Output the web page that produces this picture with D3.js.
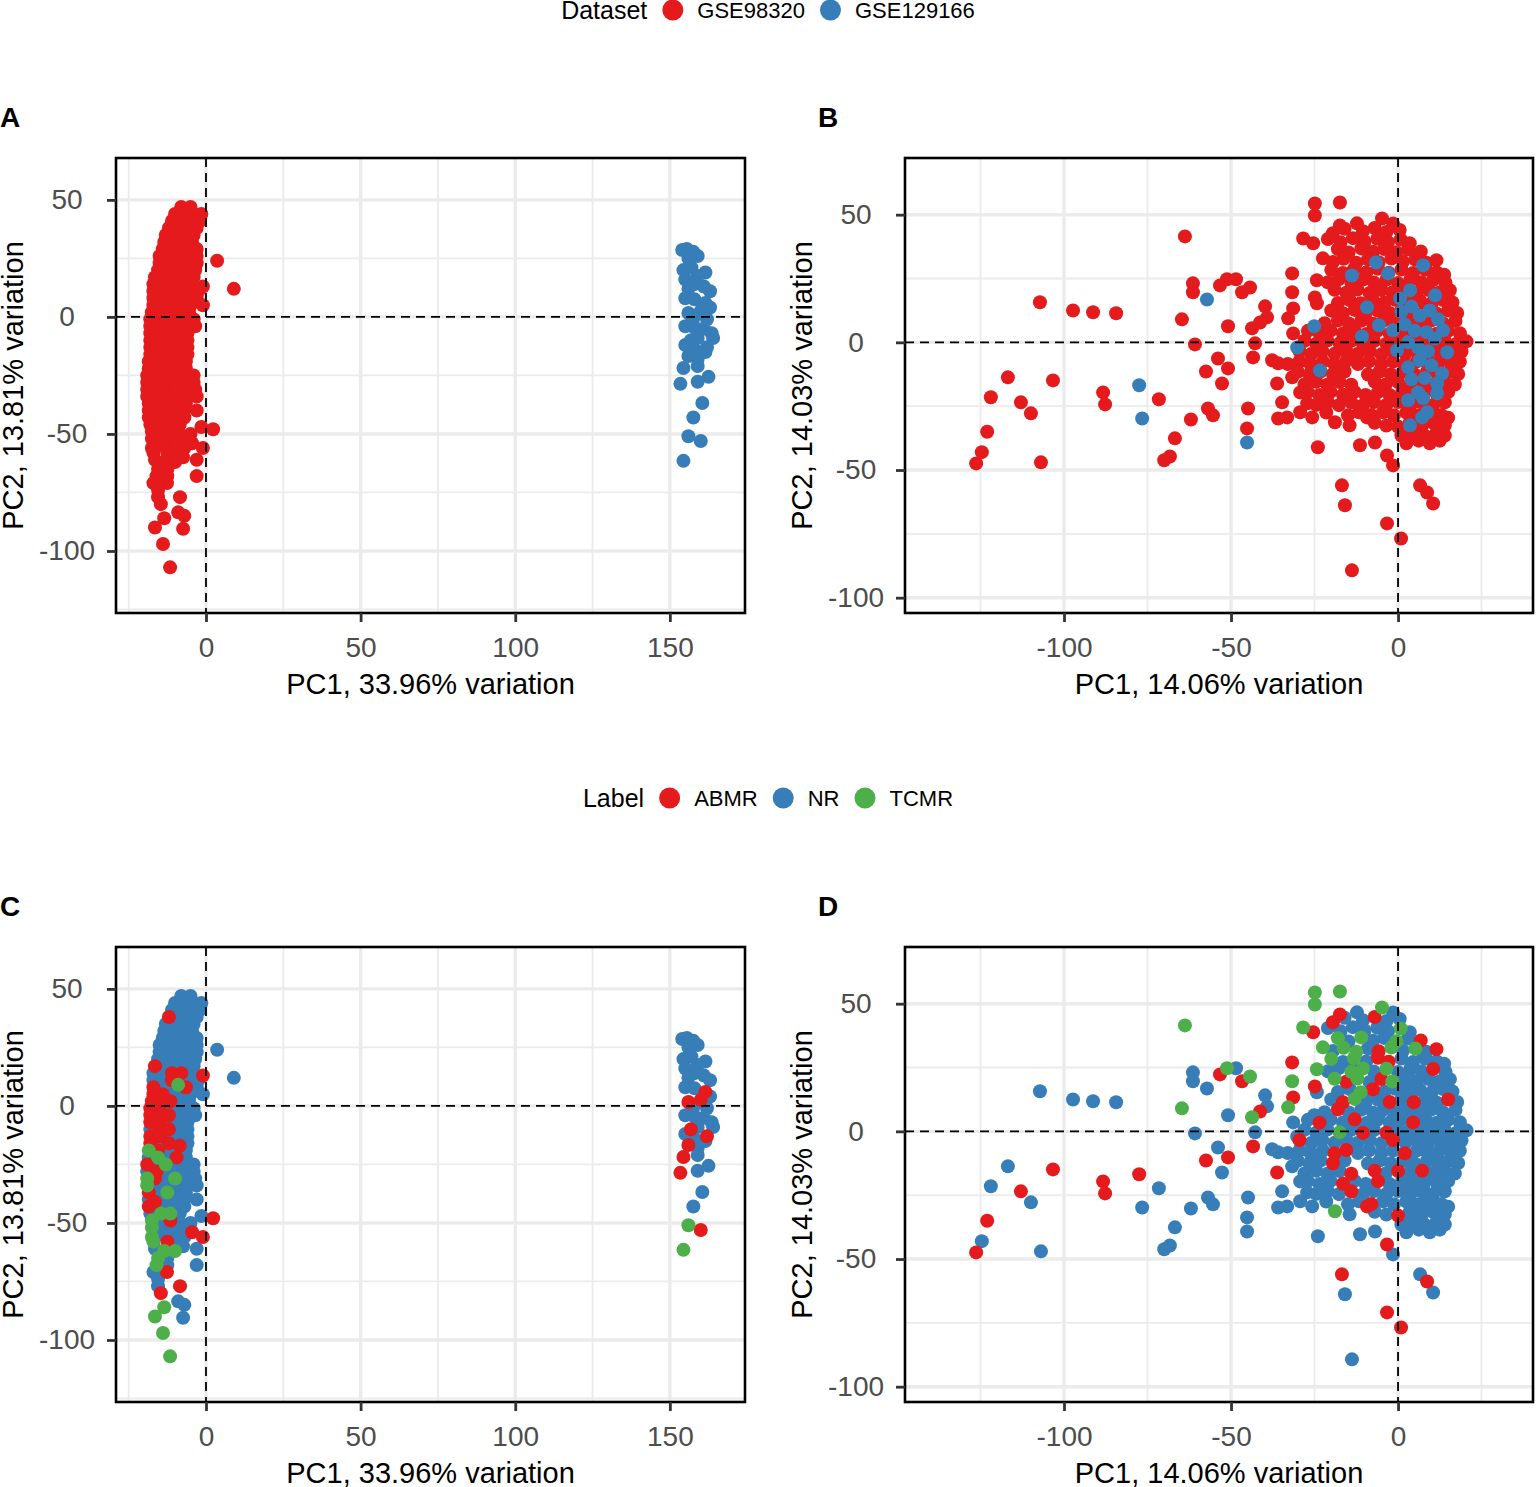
<!DOCTYPE html>
<html>
<head>
<meta charset="utf-8">
<script src="https://cdn.jsdelivr.net/npm/d3@7"></script>
<style>
  body { margin: 0; background: #fff; }
  svg text { font-family: "Liberation Sans", Arial, Helvetica, sans-serif; }
</style>
</head>
<body>
<svg id="chart" width="1536" height="1487"></svg>
<script>
// categories
const datasetNames = ["GSE98320", "GSE129166"];
const labelNames = ["ABMR", "NR", "TCMR"];
const labelCodes = { A: "ABMR", N: "NR", T: "TCMR" };

// tick values
const allXTicks = [0, 50, 100, 150];
const allYTicks = [50, 0, -50, -100];
const allXMinor = [-25, 25, 75, 125];
const allYMinor = [25, -25, -75, -125];
const subXTicks = [-100, -50, 0];
const subYTicks = [50, 0, -50, -100];
const subXMinor = [-125, -75, -25, 25];
const subYMinor = [25, -25, -75];

const allXTitle = "PC1, 33.96% variation";
const allYTitle = "PC2, 13.81% variation";
const subXTitle = "PC1, 14.06% variation";
const subYTitle = "PC2, 14.03% variation";

// PCA on all samples (panels A and C): [PC1, PC2, label code]
const allGse98320 = [
  [-8,47,"N"],[-5,47,"N"],
  [-10,44,"N"],[-7,44,"N"],[-4,44,"N"],[-1.5,44,"N"],
  [-11,41,"N"],[-8,41,"N"],[-5,41,"N"],[-2,41,"N"],
  [-12,38,"A"],[-9,38,"N"],[-6,38,"N"],[-3,38,"N"],
  [-13,35,"N"],[-10,35,"N"],[-7,35,"N"],[-4,35,"N"],
  [-13.5,32,"N"],[-10.5,32,"N"],[-7.5,32,"N"],[-4.5,32,"N"],
  [-14,29,"N"],[-11,29,"N"],[-8,29,"N"],[-5,29,"N"],[-3,29,"N"],
  [-15,26,"N"],[-12,26,"N"],[-9,26,"N"],[-6,26,"N"],[-3,26,"N"],
  [-15,23,"N"],[-12,23,"N"],[-9,23,"N"],[-6,23,"N"],[-3,23,"N"],
  [-15.5,20,"N"],[-12.5,20,"N"],[-9.5,20,"N"],[-6.5,20,"N"],[-3.5,20,"N"],
  [-16.5,17,"A"],[-13,17,"N"],[-10,17,"N"],[-7,17,"N"],[-4,17,"N"],
  [-17,14,"N"],[-14,14,"N"],[-11,14,"A"],[-8,14,"A"],[-5,14,"N"],[-1,13,"A"],
  [-17,11,"N"],[-14,11,"N"],[-11,11,"A"],[-8,11,"N"],[-5,11,"N"],[-2.5,11,"N"],
  [-17,8,"A"],[-14,8,"N"],[-11.5,8,"N"],[-9,9,"T"],[-6.5,8,"A"],[-3,8,"N"],
  [-17,5,"A"],[-14,5,"A"],[-11,5,"N"],[-8,5,"N"],[-5,5,"N"],[-1,5,"N"],
  [-17.5,2,"A"],[-14.5,2,"A"],[-11.5,2,"A"],[-8.5,2,"N"],[-5.5,2,"N"],
  [-18,-1,"A"],[-15,-1,"A"],[-12,-1,"N"],[-9,-1,"N"],[-6,-1,"N"],[-4,-1,"N"],
  [-18,-4,"A"],[-15,-4,"A"],[-12,-4,"A"],[-9,-4,"N"],[-6,-4,"N"],[-3.5,-4,"N"],
  [-18,-7,"A"],[-15,-7,"A"],[-12,-7,"N"],[-9,-7,"N"],[-6,-7,"N"],
  [-18,-10,"N"],[-15,-10,"A"],[-12,-10,"A"],[-9,-10,"N"],[-6,-10,"N"],
  [-18,-13,"A"],[-15,-13,"A"],[-12,-13,"N"],[-9,-13,"N"],[-6,-13,"N"],
  [-18,-16,"A"],[-15,-16,"N"],[-12,-16,"A"],[-8.5,-17,"A"],[-6,-16,"N"],
  [-18.5,-19,"T"],[-15.5,-19,"A"],[-12.5,-19,"N"],[-9.5,-19,"N"],[-6.5,-19,"N"],
  [-18.5,-22,"N"],[-15.5,-22,"T"],[-12.5,-22,"N"],[-9.5,-22,"A"],[-6.5,-22,"N"],
  [-19,-25,"A"],[-16,-25,"N"],[-13,-25,"T"],[-10,-25,"N"],[-7,-25,"N"],[-4,-25,"N"],
  [-19,-28,"N"],[-16,-28,"A"],[-13,-28,"N"],[-10,-28,"N"],[-7,-28,"N"],[-4,-28,"N"],
  [-19,-31,"T"],[-16.5,-31,"A"],[-13.5,-31,"N"],[-10,-31,"T"],[-7,-31,"N"],[-3.5,-31,"N"],
  [-19,-34,"T"],[-16,-34,"N"],[-13,-34,"N"],[-10,-34,"N"],[-7,-34,"N"],[-3,-34,"N"],
  [-18.5,-37,"A"],[-15.5,-37,"N"],[-12.5,-37,"T"],[-9.5,-37,"N"],[-6.5,-37,"N"],
  [-18.5,-40,"N"],[-16.5,-41,"A"],[-13,-40,"N"],[-10,-40,"N"],[-7,-40,"N"],[-3,-40,"N"],
  [-18.5,-43,"A"],[-15.5,-43,"N"],[-12.5,-43,"N"],[-9.5,-43,"N"],[-7,-43,"N"],
  [-18,-46,"N"],[-14.5,-46,"T"],[-11.5,-46,"T"],[-8.5,-46,"N"],[-1.5,-47,"N"],
  [-17.5,-49,"T"],[-14.5,-49,"N"],[-11.5,-49,"A"],[-8.5,-50,"N"],[-5,-50,"N"],
  [-17.5,-52,"T"],[-14.5,-52,"N"],[-11,-53,"N"],[-8,-52,"N"],[-4.5,-54,"A"],
  [-17.5,-56,"T"],[-14,-55,"N"],[-10,-55,"N"],[-7,-56,"N"],[-1,-56,"A"],
  [-17,-58,"T"],[-12.5,-58,"A"],[-10,-59,"N"],[-7.4,-60,"N"],[-3,-61,"N"],
  [-16.5,-61,"N"],[-13.5,-62,"T"],[-10,-62,"T"],
  [-15.5,-65,"T"],[-12.5,-65,"N"],
  [-16,-68,"T"],[-12.5,-68,"N"],[-3,-68,"N"],
  [-17,-71,"N"],[-12.6,-71,"A"],
  [-15.5,-74,"N"],
  [-15.5,-77,"N"],[-8.4,-77,"A"],
  [-14.6,-80,"A"],
  [-13.5,-86,"T"],[-9,-83.5,"N"],[-7,-85,"N"],[-7.4,-90.5,"N"],[-16.5,-90,"T"],
  [-13.9,-97,"T"],[-11.6,-107,"T"],
  [3.6,24,"N"],[9,12,"N"],[2.3,-48,"A"]
];

const allGse129166 = [
  [154,28.6,"N"],[155.5,29,"N"],[157.6,27.8,"N"],[159,26,"N"],[156,25,"N"],
  [154.4,20,"N"],[157,21,"N"],[161.5,19,"N"],[159,17.5,"N"],[155,16,"N"],
  [158,14,"N"],[161,13,"N"],[156,12,"N"],[163,11,"N"],[155,8,"N"],[158,7.5,"N"],
  [161.5,6,"A"],[163,4,"N"],[156,1.7,"A"],[160,2.6,"A"],[157.5,-1,"N"],[162,-1,"N"],
  [155,-4,"N"],[158,-4.5,"N"],[161,-5,"N"],[163.5,-7,"N"],[164,-9,"N"],
  [156.8,-10,"A"],[159,-9,"N"],[162,-13,"A"],[155,-12,"N"],[158,-14,"N"],[161.5,-15,"N"],
  [156,-16.7,"A"],[159,-18,"N"],[154.4,-21.8,"A"],[159,-21,"N"],[162.5,-25.6,"N"],
  [159,-27.7,"N"],[153.4,-28.6,"A"],[160.5,-36.8,"N"],[157.6,-43,"N"],
  [156,-51,"T"],[160,-53,"A"],[154.4,-61.5,"T"]
];

// PCA on the subset (panels B and D): [PC1, PC2, label code]
const subGse98320 = [
  [-126.3,-47.4,"A"],[-124.6,-43,"N"],[-123,-35,"A"],[-121.9,-21.5,"N"],[-116.8,-13.7,"N"],
  [-112.9,-23.5,"A"],[-109.9,-27.8,"N"],[-107.2,15.7,"N"],[-106.9,-47,"N"],[-103.3,-14.9,"A"],
  [-97.3,12.5,"N"],[-91.3,11.8,"N"],[-88.3,-19.6,"A"],[-87.7,-24.3,"A"],[-84.4,11.4,"N"],
  [-71.6,-22.3,"N"],[-70,-46.2,"N"],[-68.3,-44.7,"N"],[-66.8,-37.6,"N"],
  [-63.8,41.5,"T"],[-64.7,9,"T"],[-61.4,23.1,"N"],[-61.4,19.6,"N"],[-60.8,-0.8,"N"],[-62,-30.2,"N"],
  [-56.9,-25.9,"N"],[-55.4,-28.6,"N"],
  [-53.3,22.3,"A"],[-51.2,24.7,"T"],[-48.5,24.7,"N"],[-46.7,19.6,"A"],[-44.3,21.5,"T"],
  [-50.9,6.3,"N"],[-53.9,-6.3,"N"],[-50.9,-10.2,"A"],[-57.5,-11.4,"A"],[-52.7,-16.1,"N"],
  [-44.9,-25.9,"N"],[-45.2,-33.7,"N"],
  [-39.8,14.1,"N"],[-39.2,9.8,"N"],[-41.3,7.8,"A"],[-43.7,5.5,"T"],[-42.8,-0.4,"N"],[-43.4,-5.9,"A"],
  [-37.7,-7,"N"],[-35.9,-8.2,"N"],[-36.2,-16.1,"A"],[-34.7,-23.5,"N"],[-35.9,-29.8,"N"],[-33.2,-29.4,"N"],
  [-31.7,27,"A"],[-31.7,19.6,"T"],[-31.4,13.3,"A"],[-32.9,9.4,"T"],[-31.4,3.5,"N"],[-31.7,-13.7,"N"],
  [-29.3,-19.6,"N"],[-27.2,-23.9,"N"],[-29.3,-27.4,"N"],[-25.7,-29.4,"N"],
  [-28.4,40.7,"T"],[-25.4,38.8,"A"],[-24.9,54.4,"T"],[-24.9,49.7,"T"],[-17.4,54.8,"T"],
  [-24.3,24.3,"T"],[-24.9,17.6,"A"],[-24.3,15.3,"N"],[-22.5,32.9,"T"],[-24,-41.1,"N"],
  [-18.9,-31.3,"T"],[-16.8,-56,"A"],[-15.9,-63.8,"N"],[-13.8,-89.3,"N"],[-11.4,-40.3,"N"],
  [-9.3,-29.4,"A"],[-6.9,-39.2,"N"],[-3.3,-44.3,"A"],[-1.5,-48.2,"N"],[-3.3,-70.9,"A"],[0.9,-76.8,"A"],
  [6.6,-56,"N"],[8.7,-58.8,"A"],[10.5,-63.1,"N"],
  [-12.3,46.6,"N"],[-17.4,45.8,"A"],[-19.5,42.7,"A"],
  [-4.8,48.5,"T"],[-1.5,46.5,"N"],
  [-16,44.5,"N"],[-10.5,43.5,"N"],[-7,44.8,"A"],[-3.5,43.2,"N"],[0.5,44,"N"],
  [-21,40.5,"N"],[-17.2,39.2,"N"],[-13.5,40.8,"N"],[-10,39.5,"N"],[-6.2,40.6,"N"],[-3,39.2,"N"],[0.8,40.3,"T"],[3.5,38.8,"N"],
  [-18,36.5,"T"],[-14.8,35.2,"N"],[-11,36.8,"T"],[-7.5,35.5,"N"],[-4.2,36.6,"N"],[-0.5,35.3,"T"],[3,36.4,"N"],[6.8,35.6,"A"],
  [-19.5,31.5,"N"],[-16.3,32.7,"T"],[-12.5,31.2,"T"],[-9,32.5,"N"],[-5.8,31.4,"A"],[-2,32.8,"T"],[1.5,31.6,"N"],[5.2,32.4,"T"],[8.5,31.2,"N"],[11.5,32.2,"A"],
  [-20,28.4,"T"],[-16.5,27.2,"N"],[-13.2,28.6,"T"],[-9.5,27.4,"N"],[-6,28.8,"A"],[-2.8,27.3,"A"],[1,28.5,"N"],[4.5,27.2,"N"],[8.2,28.4,"N"],[11.5,27.5,"N"],[13.8,26.5,"N"],
  [-21,23.5,"N"],[-17.8,24.7,"N"],[-14,23.3,"T"],[-10.5,24.6,"T"],[-7.2,23.4,"N"],[-3.5,24.5,"T"],[0,23.2,"N"],[3.7,24.6,"N"],[7,23.5,"N"],[10.5,24.4,"A"],[14.2,23.4,"N"],
  [-19,20.6,"T"],[-15.5,19.4,"A"],[-12.2,20.7,"T"],[-8.5,19.3,"N"],[-5,20.5,"A"],[-1.7,19.5,"T"],[2,20.6,"N"],[5.5,19.4,"N"],[9.2,20.5,"N"],[12.5,19.6,"N"],[15.5,20.4,"N"],
  [-18,15.4,"N"],[-14.5,16.6,"N"],[-11.2,15.3,"T"],[-7.5,16.5,"A"],[-4,15.5,"N"],[-0.8,16.7,"N"],[3,15.4,"N"],[6.5,16.5,"N"],[10.2,15.5,"N"],[13.5,16.6,"N"],[16.3,15.6,"N"],
  [-20,12.5,"N"],[-16.5,11.4,"A"],[-13,12.7,"T"],[-9.7,11.3,"N"],[-6,12.4,"N"],[-2.5,11.5,"A"],[1,12.6,"N"],[4.7,11.4,"A"],[8,12.5,"N"],[11.5,11.3,"N"],[15,12.5,"A"],[17.7,11.5,"N"],
  [-22,7.5,"N"],[-18,8.6,"A"],[-14.7,7.4,"N"],[-11,8.5,"N"],[-7.5,7.3,"N"],[-4.2,8.6,"N"],[-0.5,7.4,"N"],[3,8.5,"N"],[6.7,7.5,"N"],[10,8.6,"N"],[13.5,7.4,"N"],[17.2,8.4,"N"],
  [-27,4.5,"N"],[-23.5,3.4,"A"],[-20.2,4.6,"N"],[-16.5,3.5,"N"],[-13,4.7,"A"],[-9.5,3.3,"N"],[-6.2,4.5,"N"],[-2.5,3.4,"N"],[1,4.6,"N"],[4.5,3.5,"A"],[8.2,4.5,"N"],[11.5,3.4,"N"],[15,4.5,"N"],[18.5,3.6,"N"],
  [-28,0.6,"N"],[-24.5,-0.5,"N"],[-21.2,0.7,"N"],[-17.5,-0.4,"T"],[-14,0.6,"N"],[-10.5,-0.6,"A"],[-7.2,0.5,"N"],[-3.5,-0.5,"A"],[0,0.7,"N"],[3.5,-0.4,"N"],[7.2,0.5,"N"],[10.5,-0.6,"N"],[14,0.5,"N"],[17.5,-0.5,"N"],[20.5,0.4,"N"],
  [-29.5,-3.4,"A"],[-26,-4.6,"N"],[-22.7,-3.5,"N"],[-19,-4.5,"N"],[-15.5,-3.3,"N"],[-12.2,-4.6,"N"],[-8.5,-3.5,"N"],[-5,-4.7,"N"],[-1.5,-3.4,"A"],[2.2,-4.5,"N"],[5.5,-3.4,"N"],[9,-4.6,"N"],[12.5,-3.5,"N"],[16.2,-4.4,"N"],[19,-3.6,"N"],
  [-33,-8.5,"N"],[-29.5,-7.4,"N"],[-26.2,-8.6,"N"],[-22.5,-7.5,"N"],[-19,-8.6,"A"],[-15.5,-7.3,"A"],[-12,-8.5,"N"],[-8.7,-7.4,"N"],[-5,-8.6,"N"],[-1.5,-7.5,"N"],[2,-8.6,"A"],[5.7,-7.4,"N"],[9,-8.5,"N"],[12.5,-7.4,"N"],[16,-8.6,"N"],[18.5,-7.6,"N"],
  [-30,-11.5,"N"],[-26.5,-12.6,"N"],[-23.2,-11.4,"N"],[-19.5,-12.5,"A"],[-16,-11.4,"N"],[-9,-12.6,"N"],[-5.5,-11.4,"N"],[-2.2,-12.5,"N"],[1.5,-11.5,"N"],[5,-12.6,"N"],[8.7,-11.4,"N"],[12,-12.5,"N"],[15.5,-11.5,"N"],[18,-12.4,"N"],
  [-28,-16.5,"N"],[-24.5,-15.4,"N"],[-21.2,-16.6,"N"],[-17.5,-15.5,"N"],[-14,-16.6,"A"],[-7,-15.4,"A"],[-3.7,-16.5,"N"],[0,-15.5,"A"],[3.5,-16.6,"N"],[7.2,-15.4,"A"],[10.5,-16.5,"N"],[14,-15.5,"N"],[17,-16.5,"N"],
  [-27,-19.5,"N"],[-23.5,-20.6,"N"],[-20.2,-19.4,"N"],[-16.5,-20.5,"A"],[-13,-19.4,"N"],[-9.7,-20.6,"N"],[-6,-19.5,"A"],[-2.5,-20.6,"N"],[1.2,-19.4,"N"],[4.5,-20.5,"N"],[8,-19.5,"N"],[11.7,-20.6,"N"],[15,-19.5,"N"],
  [-24.5,-24.5,"N"],[-21,-23.4,"N"],[-17.7,-24.6,"N"],[-14,-23.5,"A"],[-10.5,-24.6,"N"],[-7.2,-23.4,"N"],[-3.5,-24.5,"N"],[0,-23.4,"N"],[3.7,-24.5,"N"],[7,-23.5,"N"],[10.5,-24.6,"N"],[14,-23.5,"N"],
  [-21.5,-27.5,"N"],[-15,-28.6,"N"],[-11.7,-27.4,"N"],[-8,-28.5,"A"],[-4.5,-27.4,"N"],[-1.2,-28.6,"N"],[2.5,-27.5,"N"],[6,-28.6,"N"],[9.7,-27.4,"N"],[13,-28.5,"N"],[15,-29.5,"N"],
  [-14.5,-32.5,"N"],[-7,-31.5,"N"],[-3.5,-32.6,"N"],[0,-33,"A"],[3.5,-31.5,"N"],[7.2,-32.6,"N"],[10.5,-31.5,"N"],[14,-32.5,"N"],
  [1,-36.5,"N"],[4.7,-35.5,"N"],[8,-36.6,"N"],[11.5,-35.5,"N"],[14,-36.5,"N"],
  [2.5,-39.5,"N"],[6.2,-38.5,"N"],[9.5,-39.5,"N"],[12.5,-38.5,"N"]
];

const subGse129166 = [
  [-77.5,-16.8,"A"],[-76.6,-29.8,"N"],[-57.2,16.8,"N"],[-45.2,-39.2,"N"],
  [-25.1,6.3,"N"],[-23.4,-11,"N"],[-30.2,-2,"N"],
  [-13.8,26.2,"N"],[-6.6,31.3,"N"],[-3,27,"N"],[7.5,30.2,"N"],
  [-9.3,13.7,"N"],[-5.7,6.7,"N"],[-10.8,2.3,"N"],
  [3.6,20.4,"N"],[0.6,17.2,"N"],[11.1,18.4,"N"],
  [1,12,"N"],[4,14,"N"],[6.5,10.5,"N"],[9.5,12.5,"N"],[12,9,"N"],
  [2,7,"N"],[5,4.5,"N"],[8.5,4,"N"],[11,1.5,"N"],[13.5,4.7,"N"],
  [-1.5,4.7,"N"],[-0.3,-3.1,"N"],[3,0,"N"],[6,-2,"N"],[9,-3.5,"N"],[14.7,-3.9,"N"],
  [3,-9.8,"N"],[6.5,-7,"N"],[10,-9,"N"],[13.2,-12.2,"N"],
  [11.7,-16.1,"N"],[11.7,-20,"N"],[6,-19.6,"N"],[8,-14,"N"],[4,-14.5,"N"],
  [3,-22.7,"N"],[7.5,-21.9,"N"],[8.7,-27.4,"N"],[7.2,-29.4,"N"],[3.6,-32.5,"N"]
];

const datasetColor = d3.scaleOrdinal().domain(datasetNames).range(["#E41A1C", "#377EB8"]);
const labelColor = d3.scaleOrdinal().domain(labelNames).range(["#E41A1C", "#377EB8", "#4DAF4A"]);

const svg = d3.select("#chart");

// turn the arrays into point objects
function toPoints(rows, dataset) {
  return rows.map((r) => ({ pc1: r[0], pc2: r[1], dataset: dataset, label: labelCodes[r[2]] }));
}
const allPoints = toPoints(allGse98320, datasetNames[0]).concat(toPoints(allGse129166, datasetNames[1]));
const subPoints = toPoints(subGse98320, datasetNames[0]).concat(toPoints(subGse129166, datasetNames[1]));

// draw order for the label panels: NR under, then ABMR, then TCMR
const labelDrawOrder = { NR: 0, ABMR: 1, TCMR: 2 };
function byLabel(points) {
  return points.slice().sort((a, b) => labelDrawOrder[a.label] - labelDrawOrder[b.label]);
}

const panels = [
  { letter: "A", left: 116, top: 158, width: 629, height: 455, xDomain: [-29.1, 174.3], yDomain: [-126.5, 67.9],
    xTicks: allXTicks, yTicks: allYTicks, xMinor: allXMinor, yMinor: allYMinor, xTitle: allXTitle, yTitle: allYTitle,
    points: allPoints, colorBy: "dataset" },
  { letter: "B", left: 905, top: 158, width: 628, height: 455, xDomain: [-147.6, 40.4], yDomain: [-106.0, 72.2],
    xTicks: subXTicks, yTicks: subYTicks, xMinor: subXMinor, yMinor: subYMinor, xTitle: subXTitle, yTitle: subYTitle,
    points: subPoints, colorBy: "dataset" },
  { letter: "C", left: 116, top: 947, width: 629, height: 455, xDomain: [-29.1, 174.3], yDomain: [-126.5, 67.9],
    xTicks: allXTicks, yTicks: allYTicks, xMinor: allXMinor, yMinor: allYMinor, xTitle: allXTitle, yTitle: allYTitle,
    points: byLabel(allPoints), colorBy: "label" },
  { letter: "D", left: 905, top: 947, width: 628, height: 455, xDomain: [-147.6, 40.4], yDomain: [-106.0, 72.2],
    xTicks: subXTicks, yTicks: subYTicks, xMinor: subXMinor, yMinor: subYMinor, xTitle: subXTitle, yTitle: subYTitle,
    points: byLabel(subPoints), colorBy: "label" }
];

panels.forEach(drawPanel);

function drawPanel(p) {
  let g = svg.append("g").attr("transform", `translate(${p.left},${p.top})`);
  let x = d3.scaleLinear().domain(p.xDomain).range([0, p.width]);
  let y = d3.scaleLinear().domain(p.yDomain).range([p.height, 0]);

  // grid, minor first then major
  g.selectAll(".xMinor").data(p.xMinor).join("line")
    .attr("x1", (d) => x(d)).attr("x2", (d) => x(d)).attr("y1", 0).attr("y2", p.height)
    .attr("stroke", "#EBEBEB").attr("stroke-width", 1.8);
  g.selectAll(".yMinor").data(p.yMinor).join("line")
    .attr("y1", (d) => y(d)).attr("y2", (d) => y(d)).attr("x1", 0).attr("x2", p.width)
    .attr("stroke", "#EBEBEB").attr("stroke-width", 1.8);
  g.selectAll(".xMajor").data(p.xTicks).join("line")
    .attr("x1", (d) => x(d)).attr("x2", (d) => x(d)).attr("y1", 0).attr("y2", p.height)
    .attr("stroke", "#EBEBEB").attr("stroke-width", 3.4);
  g.selectAll(".yMajor").data(p.yTicks).join("line")
    .attr("y1", (d) => y(d)).attr("y2", (d) => y(d)).attr("x1", 0).attr("x2", p.width)
    .attr("stroke", "#EBEBEB").attr("stroke-width", 3.4);

  // points
  let color = p.colorBy === "dataset" ? datasetColor : labelColor;
  g.append("g").selectAll("circle").data(p.points).join("circle")
    .attr("cx", (d) => x(d.pc1))
    .attr("cy", (d) => y(d.pc2))
    .attr("r", 7)
    .attr("fill", (d) => color(d[p.colorBy]));

  // dashed zero lines
  g.append("line")
    .attr("x1", x(0)).attr("x2", x(0)).attr("y1", 0).attr("y2", p.height)
    .attr("stroke", "#000").attr("stroke-width", 1.8).attr("stroke-dasharray", "9,6");
  g.append("line")
    .attr("y1", y(0)).attr("y2", y(0)).attr("x1", 0).attr("x2", p.width)
    .attr("stroke", "#000").attr("stroke-width", 1.8).attr("stroke-dasharray", "9,6");

  // frame
  g.append("rect")
    .attr("width", p.width).attr("height", p.height)
    .attr("fill", "none").attr("stroke", "#000").attr("stroke-width", 2.6);

  // axes
  let xAxis = g.append("g").attr("transform", `translate(0,${p.height})`)
    .call(d3.axisBottom(x).tickValues(p.xTicks).tickSize(9).tickPadding(15).tickFormat(d3.format("d")));
  let yAxis = g.append("g")
    .call(d3.axisLeft(y).tickValues(p.yTicks).tickSize(9).tickFormat(d3.format("d")));
  [xAxis, yAxis].forEach((a) => {
    a.select(".domain").remove();
    a.selectAll(".tick line").attr("stroke", "#333").attr("stroke-width", 2.8);
    a.selectAll(".tick text").attr("fill", "#4D4D4D").attr("font-size", 28)
      .text((d) => String(d));
  });
  // y tick labels sit centred in their column, as in the original
  yAxis.selectAll(".tick text").attr("x", -49).attr("text-anchor", "middle");

  // titles
  g.append("text")
    .attr("x", p.width / 2).attr("y", p.height + 81)
    .attr("text-anchor", "middle").attr("font-size", 29).attr("fill", "#000")
    .text(p.xTitle);
  g.append("text")
    .attr("transform", `translate(-93,${p.height / 2}) rotate(-90)`)
    .attr("text-anchor", "middle").attr("font-size", 29).attr("fill", "#000")
    .text(p.yTitle);

  // panel letter
  svg.append("text")
    .attr("x", p.left === 116 ? 0 : 818).attr("y", p.top - 31)
    .attr("font-size", 28).attr("font-weight", "bold").attr("fill", "#000")
    .text(p.letter);
}

// legends
drawLegend(10, "Dataset", datasetNames, datasetColor);
drawLegend(798, "Label", labelNames, labelColor);

function drawLegend(cy, title, names, color) {
  let g = svg.append("g");
  let items = [];
  let titleText = g.append("text").text(title).attr("font-size", 25).attr("fill", "#000").attr("y", cy + 9);
  let total = titleText.node().getComputedTextLength();
  names.forEach((name) => {
    let t = g.append("text").text(name).attr("font-size", 22).attr("fill", "#000").attr("y", cy + 8);
    let w = t.node().getComputedTextLength();
    items.push({ name: name, text: t, width: w });
    total += 15 + 21 + 14 + w;
  });
  let cursor = 768 - total / 2;
  titleText.attr("x", cursor);
  cursor += titleText.node().getComputedTextLength() + 15;
  items.forEach((item) => {
    g.append("circle").attr("cx", cursor + 10.5).attr("cy", cy).attr("r", 10.5).attr("fill", color(item.name));
    cursor += 21 + 14;
    item.text.attr("x", cursor);
    cursor += item.width + 15;
  });
}
</script>
</body>
</html>
